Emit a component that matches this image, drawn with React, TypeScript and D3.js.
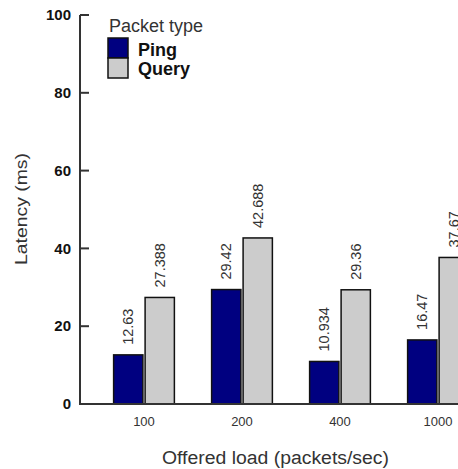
import React from "react";
import * as d3 from "d3";

const categories = ["100", "200", "400", "1000"];
const series = ["Ping", "Query"];
const pingValues = [12.63, 29.42, 10.934, 16.47];
const queryValues = [27.388, 42.688, 29.36, 37.67];
const pingLabels = ["12.63", "29.42", "10.934", "16.47"];
const queryLabels = ["27.388", "42.688", "29.36", "37.67"];
const yTicks = [0, 20, 40, 60, 80, 100];
const colors = ["#000080", "#cccccc"];

const W = 458;
const H = 469;

export default function App() {
  const x = d3.scaleBand<string>().domain(categories).range([95, 487]).paddingInner(0.38).paddingOuter(0.19);
  const xi = d3.scaleBand<string>().domain(series).range([0, x.bandwidth()]).paddingInner(0.07);
  const y = d3.scaleLinear().domain([0, 100]).range([404, 15]);
  const valuesBySeries = [pingValues, queryValues];
  const labelsBySeries = [pingLabels, queryLabels];
  const font = "'Liberation Sans', Arial, Helvetica, sans-serif";

  return (
    <svg width={W} height={H} style={{ position: "absolute", left: 0, top: 0 }} fontFamily={font}>
      <rect width={W} height={H} fill="#fff" />
      {/* bars */}
      {series.map((s, si) =>
        categories.map((c, ci) => {
          const v = valuesBySeries[si][ci];
          const bx = (x(c) as number) + (xi(s) as number);
          const bw = xi.bandwidth();
          const top = y(v);
          return (
            <g key={s + c}>
              <rect x={bx} y={top} width={bw} height={y(0) - top} fill={colors[si]} stroke="#111" strokeWidth={1.5} />
              <text
                transform={`translate(${bx + bw / 2},${top - 10}) rotate(-90)`}
                dy="0.35em"
                fontSize={14.5}
                fill="#333"
                textAnchor="start"
              >
                {labelsBySeries[si][ci]}
              </text>
            </g>
          );
        })
      )}
      {/* y axis */}
      <line x1={80} x2={80} y1={y(100)} y2={y(0)} stroke="#333" strokeWidth={2} />
      {yTicks.map((t) => (
        <g key={t}>
          <line x1={80} x2={89} y1={y(t)} y2={y(t)} stroke="#333" strokeWidth={2} />
          <text x={71} y={y(t)} dy="0.35em" textAnchor="end" fontSize={15} fontWeight="bold" fill="#111">
            {t}
          </text>
        </g>
      ))}
      {/* x axis */}
      <line x1={79} x2={W} y1={y(0)} y2={y(0)} stroke="#333" strokeWidth={2} />
      {categories.map((c) => (
        <text key={c} x={(x(c) as number) + x.bandwidth() / 2} y={426} textAnchor="middle" fontSize={13} fill="#333">
          {c}
        </text>
      ))}
      <text x={275.5} y={464} textAnchor="middle" fontSize={18} fill="#333" textLength={227} lengthAdjust="spacingAndGlyphs">
        Offered load (packets/sec)
      </text>
      <text transform="translate(27,209) rotate(-90)" textAnchor="middle" fontSize={17} fill="#333" textLength={112} lengthAdjust="spacingAndGlyphs">
        Latency (ms)
      </text>
      {/* legend */}
      <text x={109} y={32} fontSize={18} fill="#333">Packet type</text>
      {series.map((s, si) => (
        <g key={s}>
          <rect x={108} y={38 + si * 20} width={20} height={20} fill={colors[si]} stroke="#111" strokeWidth={1.5} />
          <text x={138} y={56 + si * 19} fontSize={18} fontWeight="bold" fill="#111">
            {s}
          </text>
        </g>
      ))}
    </svg>
  );
}
